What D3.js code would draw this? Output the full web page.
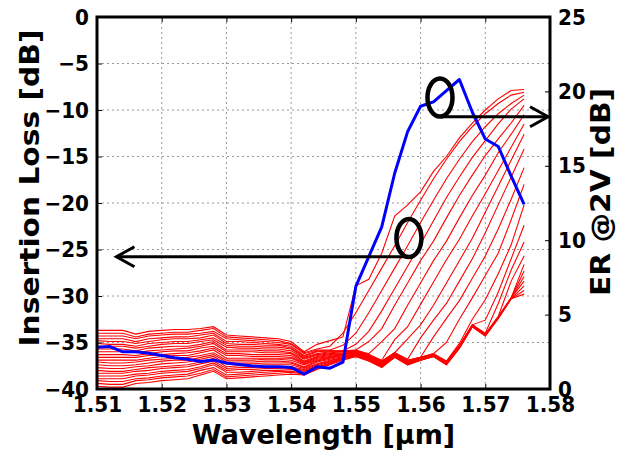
<!DOCTYPE html>
<html>
<head>
<meta charset="utf-8">
<script src="https://cdn.jsdelivr.net/npm/d3@7/dist/d3.min.js"></script>
<style>
	body { margin: 0; background: #fff; }
	svg text { font-family: "DejaVu Sans", sans-serif; font-weight: bold; fill: #000; }
</style>
</head>
<body>
<svg id="chart" width="617" height="451"></svg>
<script>

// wavelength samples [um]
var wavelengths = [1.510, 1.512, 1.514, 1.516, 1.518, 1.520, 1.522, 1.524, 1.526, 1.528,
	1.530, 1.532, 1.534, 1.536, 1.538, 1.540, 1.542, 1.544, 1.546, 1.548,
	1.550, 1.552, 1.554, 1.556, 1.558, 1.560, 1.562, 1.564, 1.566, 1.568,
	1.570, 1.572, 1.574, 1.576];

// extinction ratio @2V [dB], right axis
var erValues = [2.8, 2.85, 2.5, 2.5, 2.4, 2.25, 2.1, 2.0, 1.85, 1.95,
	1.75, 1.65, 1.55, 1.5, 1.5, 1.45, 1.0, 1.5, 1.4, 1.8,
	6.9, 8.9, 10.9, 14.5, 17.3, 19.0, 19.3, 20.05, 20.8, 18.6,
	16.8, 16.3, 14.3, 12.4];

// insertion loss [dB], one row per bias step, left axis
var lossCurves = [
	[-33.7,-33.7,-33.7,-34.1,-33.8,-33.7,-33.6,-33.6,-33.5,-33.3,-34.2,-34.3,-34.4,-34.5,-34.6,-34.9,-36.0,-35.2,-34.8,-34.4,-28.9,-28.2,-25.4,-21.4,-20.2,-18.8,-16.6,-15.0,-13.0,-11.4,-10.0,-8.8,-7.9,-7.8],
	[-34.0,-34.0,-34.0,-34.4,-34.1,-34.0,-33.9,-33.9,-33.7,-33.5,-34.4,-34.5,-34.6,-34.7,-34.8,-35.1,-36.1,-35.7,-35.4,-34.0,-31.8,-29.4,-27.0,-24.6,-22.1,-19.7,-17.4,-15.3,-13.4,-11.8,-10.4,-9.3,-8.4,-8.1],
	[-34.3,-34.3,-34.3,-34.6,-34.3,-34.2,-34.1,-34.1,-34.0,-33.8,-34.6,-34.7,-34.8,-34.9,-35.0,-35.2,-36.2,-35.8,-35.8,-35.3,-34.0,-31.8,-29.4,-27.0,-24.6,-22.1,-19.7,-17.4,-15.3,-13.4,-11.8,-10.4,-9.3,-8.4],
	[-34.6,-34.6,-34.6,-34.9,-34.6,-34.5,-34.4,-34.4,-34.2,-34.0,-34.9,-34.9,-35.0,-35.1,-35.2,-35.4,-36.4,-35.9,-35.9,-35.9,-35.2,-33.8,-31.6,-29.2,-26.8,-24.4,-21.9,-19.4,-17.2,-15.1,-13.3,-11.5,-9.9,-8.8],
	[-34.8,-34.9,-34.9,-35.1,-34.9,-34.7,-34.6,-34.6,-34.5,-34.2,-35.1,-35.2,-35.2,-35.3,-35.3,-35.6,-36.5,-36.0,-35.9,-35.9,-35.8,-34.9,-33.5,-31.0,-28.6,-26.2,-24.1,-21.6,-19.2,-17.0,-14.9,-13.1,-11.4,-9.5],
	[-35.1,-35.2,-35.2,-35.4,-35.1,-35.0,-34.9,-34.9,-34.7,-34.5,-35.3,-35.4,-35.4,-35.5,-35.5,-35.7,-36.6,-36.2,-36.0,-36.0,-35.8,-36.2,-34.9,-33.5,-31.0,-28.6,-26.2,-24.1,-21.6,-19.2,-17.0,-14.6,-12.6,-10.5],
	[-35.4,-35.4,-35.4,-35.6,-35.4,-35.2,-35.1,-35.1,-34.9,-34.7,-35.5,-35.6,-35.6,-35.7,-35.7,-35.9,-36.7,-36.3,-36.1,-36.0,-35.9,-36.3,-36.9,-34.7,-33.3,-30.9,-28.5,-26.1,-23.9,-21.4,-19.0,-16.5,-14.0,-11.5],
	[-35.7,-35.7,-35.7,-35.9,-35.6,-35.5,-35.4,-35.4,-35.2,-34.9,-35.8,-35.8,-35.8,-35.9,-35.9,-36.1,-36.8,-36.4,-36.2,-36.1,-35.9,-36.3,-37.0,-36.1,-34.6,-33.1,-31.0,-28.6,-26.2,-23.8,-21.0,-18.2,-15.4,-12.6],
	[-36.0,-36.0,-36.0,-36.1,-35.9,-35.8,-35.7,-35.6,-35.4,-35.1,-36.0,-36.0,-36.0,-36.1,-36.1,-36.2,-37.0,-36.5,-36.3,-36.2,-35.9,-36.4,-37.0,-36.1,-36.8,-34.5,-32.6,-30.8,-28.4,-26.0,-23.2,-20.2,-17.2,-14.2],
	[-36.3,-36.3,-36.3,-36.4,-36.2,-36.0,-35.9,-35.9,-35.6,-35.4,-36.2,-36.2,-36.3,-36.3,-36.3,-36.4,-37.1,-36.6,-36.4,-36.2,-36.0,-36.4,-37.1,-36.1,-36.9,-36.6,-34.4,-32.4,-30.5,-28.1,-25.7,-22.8,-19.6,-16.2],
	[-36.6,-36.6,-36.6,-36.6,-36.4,-36.3,-36.2,-36.1,-35.9,-35.6,-36.4,-36.4,-36.5,-36.5,-36.5,-36.6,-37.2,-36.7,-36.5,-36.3,-36.0,-36.5,-37.1,-36.2,-36.9,-36.6,-36.2,-35.0,-32.5,-30.2,-27.8,-25.4,-21.8,-18.0],
	[-36.9,-36.9,-36.9,-36.9,-36.7,-36.5,-36.4,-36.4,-36.1,-35.8,-36.7,-36.7,-36.7,-36.7,-36.7,-36.7,-37.3,-36.8,-36.6,-36.3,-36.1,-36.5,-37.2,-36.2,-37.0,-36.6,-36.2,-37.0,-35.1,-32.5,-30.4,-27.6,-24.5,-20.2],
	[-37.1,-37.2,-37.2,-37.1,-36.9,-36.8,-36.7,-36.6,-36.4,-36.1,-36.9,-36.9,-36.9,-36.8,-36.8,-36.9,-37.4,-36.9,-36.6,-36.4,-36.1,-36.6,-37.2,-36.3,-37.0,-36.7,-36.3,-37.1,-35.3,-33.1,-32.6,-29.6,-26.0,-22.4],
	[-37.4,-37.5,-37.5,-37.4,-37.2,-37.0,-36.9,-36.9,-36.6,-36.3,-37.1,-37.1,-37.1,-37.0,-37.0,-37.1,-37.6,-37.0,-36.7,-36.4,-36.2,-36.6,-37.3,-36.3,-37.1,-36.7,-36.3,-37.1,-35.4,-33.1,-34.0,-30.8,-27.2,-24.2],
	[-37.7,-37.8,-37.8,-37.6,-37.5,-37.3,-37.2,-37.1,-36.8,-36.5,-37.3,-37.3,-37.3,-37.2,-37.2,-37.2,-37.7,-37.1,-36.8,-36.5,-36.2,-36.7,-37.3,-36.3,-37.1,-36.7,-36.3,-37.1,-35.4,-33.1,-34.1,-32.2,-28.4,-25.7],
	[-38.0,-38.1,-38.1,-37.9,-37.7,-37.6,-37.5,-37.4,-37.1,-36.7,-37.6,-37.5,-37.5,-37.4,-37.4,-37.4,-37.8,-37.3,-36.9,-36.6,-36.3,-36.7,-37.4,-36.4,-37.2,-36.7,-36.3,-37.2,-35.4,-33.1,-34.1,-32.2,-30.2,-26.6],
	[-38.3,-38.3,-38.3,-38.1,-38.0,-37.8,-37.7,-37.6,-37.3,-37.0,-37.8,-37.7,-37.7,-37.6,-37.6,-37.6,-37.9,-37.4,-37.0,-36.6,-36.3,-36.8,-37.4,-36.4,-37.2,-36.8,-36.4,-37.2,-35.5,-33.2,-34.1,-32.3,-30.2,-27.3],
	[-38.6,-38.6,-38.6,-38.4,-38.3,-38.1,-38.0,-37.9,-37.6,-37.2,-38.0,-37.9,-37.9,-37.8,-37.8,-37.7,-38.0,-37.5,-37.1,-36.7,-36.3,-36.8,-37.5,-36.5,-37.2,-36.8,-36.4,-37.3,-35.5,-33.2,-34.2,-32.3,-30.2,-27.9],
	[-38.9,-38.9,-38.9,-38.6,-38.5,-38.3,-38.2,-38.1,-37.8,-37.4,-38.2,-38.2,-38.1,-38.0,-38.0,-37.9,-38.1,-37.6,-37.2,-36.7,-36.4,-36.9,-37.5,-36.5,-37.3,-36.8,-36.4,-37.3,-35.5,-33.2,-34.2,-32.3,-30.2,-28.4],
	[-39.1,-39.2,-39.2,-38.9,-38.8,-38.6,-38.5,-38.4,-38.0,-37.7,-38.5,-38.4,-38.3,-38.2,-38.1,-38.1,-38.3,-37.7,-37.2,-36.8,-36.4,-36.9,-37.6,-36.5,-37.3,-36.9,-36.5,-37.3,-35.6,-33.3,-34.2,-32.4,-30.3,-28.9],
	[-39.4,-39.5,-39.5,-39.1,-39.0,-38.8,-38.7,-38.6,-38.3,-37.9,-38.7,-38.6,-38.5,-38.4,-38.3,-38.2,-38.4,-37.8,-37.3,-36.8,-36.5,-37.0,-37.6,-36.6,-37.4,-36.9,-36.5,-37.4,-35.6,-33.3,-34.3,-32.4,-30.3,-29.4],
	[-39.7,-39.8,-39.8,-39.4,-39.3,-39.1,-39.0,-38.9,-38.5,-38.1,-38.9,-38.8,-38.7,-38.6,-38.5,-38.4,-38.5,-37.9,-37.4,-36.9,-36.5,-37.0,-37.7,-36.6,-37.4,-36.9,-36.5,-37.4,-35.6,-33.3,-34.3,-32.4,-30.3,-29.8]
];

// ticks and their labels
var wlTicks = [1.51, 1.52, 1.53, 1.54, 1.55, 1.56, 1.57, 1.58];
var wlTickLabels = ["1.51", "1.52", "1.53", "1.54", "1.55", "1.56", "1.57", "1.58"];
var lossTicks = [0, -5, -10, -15, -20, -25, -30, -35, -40];
var lossTickLabels = ["0", "\u22125", "\u221210", "\u221215", "\u221220", "\u221225", "\u221230", "\u221235", "\u221240"];
var erTicks = [0, 5, 10, 15, 20, 25];
var erTickLabels = ["0", "5", "10", "15", "20", "25"];

var dims = {
	left: 97,
	right: 550,
	top: 17,
	bottom: 389,
	tickFont: 20,
	labelFont: 27,
	// the picture is slightly taller than wide, text glyphs included
	stretch: 1.1
};

var svg = d3.select("#chart");

var x = d3.scaleLinear().domain([1.51, 1.58]).range([dims.left, dims.right]);
var yLoss = d3.scaleLinear().domain([-40, 0]).range([dims.bottom, dims.top]);
var yEr = d3.scaleLinear().domain([0, 25]).range([dims.bottom, dims.top]);

// dotted grid
var grid = svg.append("g").attr("class", "grid");

grid.selectAll("line.vgrid")
	.data(wlTicks.slice(1, -1))
	.enter()
	.append("line")
		.attr("x1", function(d) { return x(d); })
		.attr("x2", function(d) { return x(d); })
		.attr("y1", dims.top)
		.attr("y2", dims.bottom)
		.attr("stroke", "#9a9a9a")
		.attr("stroke-width", 1)
		.attr("stroke-dasharray", "2,3");

grid.selectAll("line.hgrid")
	.data(lossTicks.slice(1, -1))
	.enter()
	.append("line")
		.attr("x1", dims.left)
		.attr("x2", dims.right)
		.attr("y1", function(d) { return yLoss(d); })
		.attr("y2", function(d) { return yLoss(d); })
		.attr("stroke", "#9a9a9a")
		.attr("stroke-width", 1)
		.attr("stroke-dasharray", "2,3");

// insertion loss curves
var lossLine = d3.line()
	.x(function(d, i) { return x(wavelengths[i]); })
	.y(function(d) { return yLoss(d); });

svg.append("g")
	.selectAll("path")
	.data(lossCurves)
	.enter()
	.append("path")
		.attr("d", lossLine)
		.attr("fill", "none")
		.attr("stroke", "#ff0000")
		.attr("stroke-width", 1.1);

// extinction ratio
var erLine = d3.line()
	.x(function(d, i) { return x(wavelengths[i]); })
	.y(function(d) { return yEr(d); });

svg.append("path")
	.datum(erValues)
	.attr("d", erLine)
	.attr("fill", "none")
	.attr("stroke", "#0000ff")
	.attr("stroke-width", 3)
	.attr("stroke-linejoin", "round");

// annotation: ellipses with arrows pointing to the matching axis
var notes = svg.append("g")
	.attr("stroke", "#000")
	.attr("fill", "none");

notes.append("ellipse")
	.attr("cx", x(1.5630))
	.attr("cy", yLoss(-8.66))
	.attr("rx", 12.5)
	.attr("ry", 19)
	.attr("stroke-width", 4.5);

notes.append("line")
	.attr("x1", x(1.5630))
	.attr("x2", x(1.5797))
	.attr("y1", yLoss(-10.72))
	.attr("y2", yLoss(-10.72))
	.attr("stroke-width", 3);

notes.append("path")
	.attr("d", "M" + (x(1.5797) - 18) + "," + (yLoss(-10.72) - 10) + "L" + x(1.5797) + "," + yLoss(-10.72) + "L" + (x(1.5797) - 18) + "," + (yLoss(-10.72) + 10))
	.attr("stroke-width", 3);

notes.append("ellipse")
	.attr("cx", x(1.5582))
	.attr("cy", yLoss(-23.76))
	.attr("rx", 12.5)
	.attr("ry", 19)
	.attr("stroke-width", 4.5);

notes.append("line")
	.attr("x1", x(1.5581))
	.attr("x2", x(1.5130))
	.attr("y1", yLoss(-25.78))
	.attr("y2", yLoss(-25.78))
	.attr("stroke-width", 3);

notes.append("path")
	.attr("d", "M" + (x(1.5130) + 18) + "," + (yLoss(-25.78) - 10) + "L" + x(1.5130) + "," + yLoss(-25.78) + "L" + (x(1.5130) + 18) + "," + (yLoss(-25.78) + 10))
	.attr("stroke-width", 3);

// axes
function styleAxis(g) {
	g.select(".domain").remove();
	g.selectAll(".tick line").attr("stroke", "#000").attr("stroke-width", 1);
	g.selectAll(".tick text")
		.attr("font-size", dims.tickFont)
		.attr("transform", "scale(1," + dims.stretch + ")")
		.style("font-family", "'DejaVu Sans', sans-serif")
		.style("font-weight", "bold");
}

svg.append("g")
	.attr("transform", "translate(0," + dims.bottom + ")")
	.call(d3.axisBottom(x).tickValues(wlTicks).tickSize(-5).tickPadding(7)
		.tickFormat(function(d, i) { return wlTickLabels[i]; }))
	.call(styleAxis);

svg.append("g")
	.attr("transform", "translate(0," + dims.top + ")")
	.call(d3.axisTop(x).tickValues(wlTicks).tickSize(-5).tickFormat(""))
	.call(styleAxis);

svg.append("g")
	.attr("transform", "translate(" + dims.left + ",0)")
	.call(d3.axisLeft(yLoss).tickValues(lossTicks).tickSize(-5).tickPadding(8)
		.tickFormat(function(d, i) { return lossTickLabels[i]; }))
	.call(styleAxis);

svg.append("g")
	.attr("transform", "translate(" + dims.right + ",0)")
	.call(d3.axisRight(yEr).tickValues(erTicks).tickSize(-5).tickPadding(8)
		.tickFormat(function(d, i) { return erTickLabels[i]; }))
	.call(styleAxis);

// frame
svg.append("rect")
	.attr("x", dims.left)
	.attr("y", dims.top)
	.attr("width", dims.right - dims.left)
	.attr("height", dims.bottom - dims.top)
	.attr("fill", "none")
	.attr("stroke", "#000")
	.attr("stroke-width", 3);

// axis titles
svg.append("text")
	.attr("x", (dims.left + dims.right) / 2)
	.attr("y", 444)
	.attr("text-anchor", "middle")
	.attr("font-size", dims.labelFont)
	.text("Wavelength [\u00b5m]");

svg.append("text")
	.attr("transform", "translate(39,188) rotate(-90) scale(" + dims.stretch + ",1)")
	.attr("text-anchor", "middle")
	.attr("font-size", dims.labelFont)
	.text("Insertion Loss [dB]");

svg.append("text")
	.attr("transform", "translate(610,192) rotate(-90) scale(" + dims.stretch + ",1)")
	.attr("text-anchor", "middle")
	.attr("font-size", dims.labelFont)
	.text("ER @2V [dB]");

</script>
</body>
</html>
